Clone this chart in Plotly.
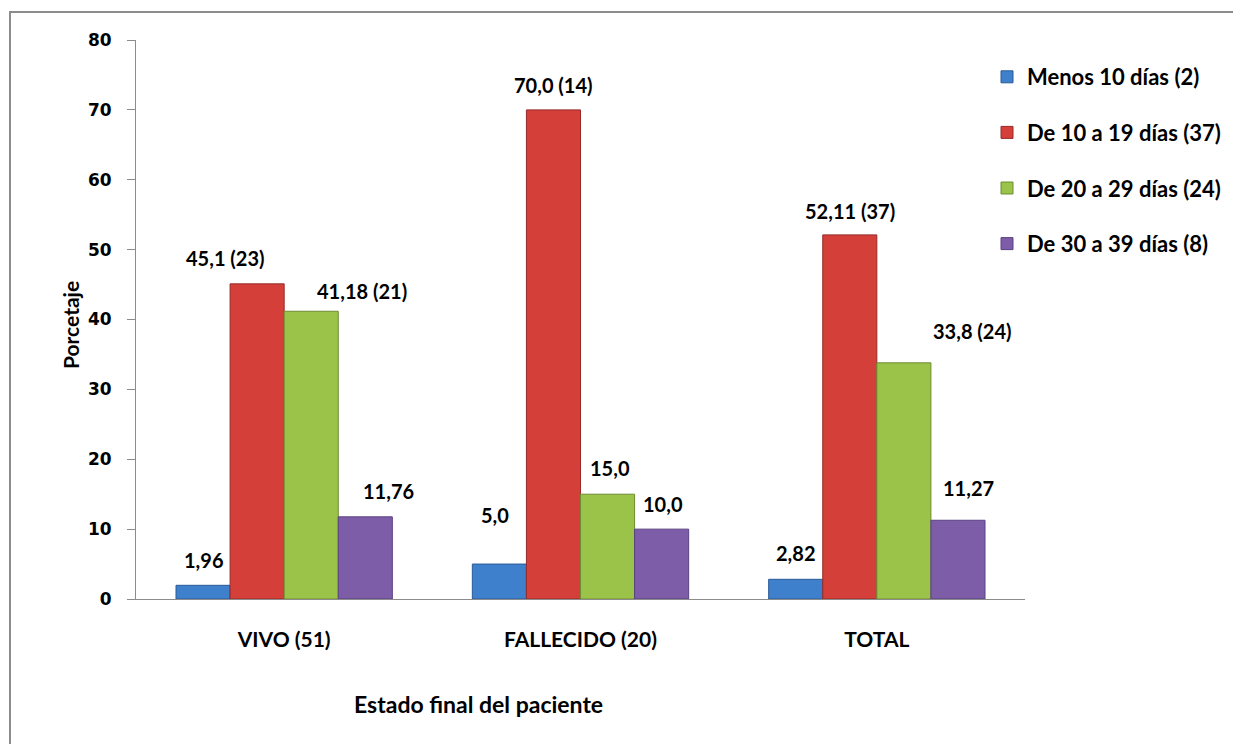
import plotly.graph_objects as go

categories = ["VIVO (51)", "FALLECIDO (20)", "TOTAL"]
series_names = ["Menos 10 días (2)", "De 10 a 19 días (37)", "De 20 a 29 días (24)", "De 30 a 39 días (8)"]
menos10 = [1.96, 5.0, 2.82]
de10a19 = [45.1, 70.0, 52.11]
de20a29 = [41.18, 15.0, 33.8]
de30a39 = [11.76, 10.0, 11.27]
labels_menos10 = ["1,96", "5,0", "2,82"]
labels_de10a19 = ["45,1 (23)", "70,0 (14)", "52,11 (37)"]
labels_de20a29 = ["41,18 (21)", "15,0", "33,8 (24)"]
labels_de30a39 = ["11,76", "10,0", "11,27"]
y_ticks = [0, 10, 20, 30, 40, 50, 60, 70, 80]

values = [menos10, de10a19, de20a29, de30a39]
labels = [labels_menos10, labels_de10a19, labels_de20a29, labels_de30a39]
colors = ["#3F80CD", "#D43F3A", "#9BC249", "#7E5DA8"]
edges = ["#2A5A96", "#962A27", "#6E8C30", "#5A4080"]

# label placement tweaks (pixels): (xshift, yshift) per series / category
label_shift = [
    [(0, 11), (-4, 35), (0, 12)],
    [(-32, 12), (0, 11), (0, 10)],
    [(51, 6), (2, 12), (69, 18)],
    [(23, 12), (1, 11), (11, 18)],
]

BARGAP = 0.27
FONT = "Lato"

fig = go.Figure()
for k in range(4):
    fig.add_trace(go.Bar(
        x=categories, y=values[k], name=series_names[k],
        marker=dict(color=colors[k], line=dict(color=edges[k], width=1)),
        legendgroup=f"g{k}",
    ))

w = (1 - BARGAP) / 4
annotations = []
for k in range(4):
    for i in range(3):
        dx, dy = label_shift[k][i]
        annotations.append(dict(
            x=i + (k - 1.5) * w, y=values[k][i], xref="x", yref="y",
            text=labels[k][i], showarrow=False, yanchor="bottom",
            xshift=dx, yshift=dy,
            font=dict(family=FONT, size=20, color="#000000", weight="bold"),
        ))

annotations.append(dict(
    text="Estado final del paciente", xref="paper", yref="paper",
    x=(478 - 136) / 889, y=(599 - 704) / 559, showarrow=False,
    xanchor="center", yanchor="middle",
    font=dict(family=FONT, size=23, color="#000000", weight="bold"),
))
annotations.append(dict(
    text="Porcetaje", xref="paper", yref="paper", textangle=-90,
    x=(70 - 136) / 889, y=(599 - 325) / 559, showarrow=False,
    xanchor="center", yanchor="middle",
    font=dict(family=FONT, size=21, color="#000000", weight="bold"),
))

fig.update_layout(
    width=1233, height=744,
    margin=dict(l=136, r=208, t=40, b=145, autoexpand=False),
    paper_bgcolor="white", plot_bgcolor="white",
    barmode="group", bargap=BARGAP, bargroupgap=0,
    showlegend=True,
    legend=dict(
        xref="container", yref="container",
        x=987 / 1233, y=1 - 56 / 744, xanchor="left", yanchor="top",
        font=dict(family=FONT, size=22, color="#000000", weight="bold"),
        tracegroupgap=24, itemwidth=30, bgcolor="rgba(0,0,0,0)",
    ),
    annotations=annotations,
    shapes=[dict(
        type="rect", xref="paper", yref="paper",
        x0=(10 - 136) / 889, x1=1.5, y0=-0.5, y1=(599 - 12) / 559,
        line=dict(color="#8C8C8C", width=2), fillcolor="rgba(0,0,0,0)", layer="below",
    )],
    xaxis=dict(
        showline=True, linecolor="#8C8C8C", linewidth=1, ticks="",
        showgrid=False, ticklabelstandoff=22,
        tickfont=dict(family=FONT, size=21, color="#000000", weight="bold"),
    ),
    yaxis=dict(
        range=[0, 80], tickvals=y_ticks, showline=True, linecolor="#8C8C8C",
        linewidth=1, ticks="outside", ticklen=8, tickcolor="#8C8C8C",
        showgrid=False, zeroline=False, ticklabelstandoff=12,
        tickfont=dict(family="DejaVu Sans", size=17, color="#000000", weight="bold"),
    ),
)

fig.write_html("out.html")
